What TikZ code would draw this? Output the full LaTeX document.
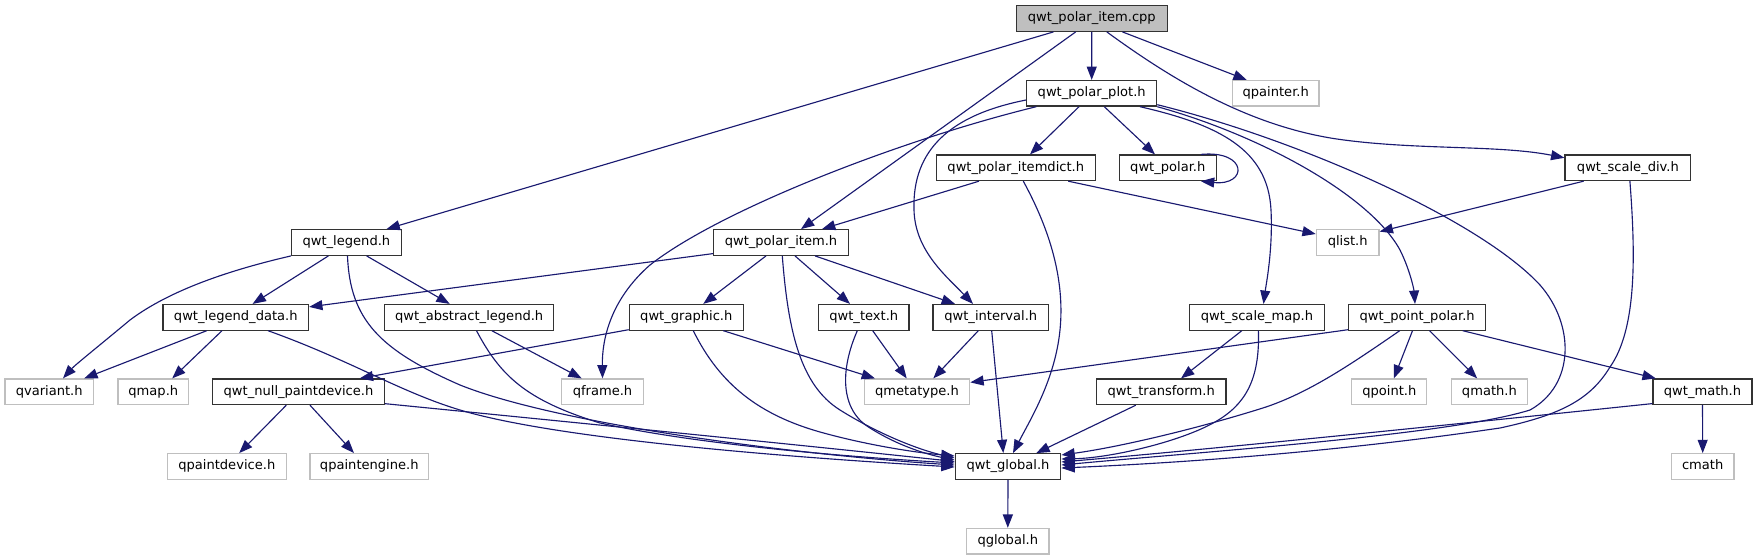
\documentclass[tikz,border=0pt]{standalone}
\usepackage{fontspec}
\setmainfont{DejaVu Sans}
\usetikzlibrary{arrows.meta,calc}
\definecolor{edgeblue}{HTML}{191970}
\definecolor{greyseventyfive}{HTML}{BFBFBF}
\begin{document}
\begin{tikzpicture}[x=0.75pt,y=-0.75pt,
  box/.style={rectangle, draw=black!80, line width=0.9pt, minimum height=19.2pt, inner sep=0pt, text height=7.2pt, text depth=2.2pt, font=\fontsize{9.8pt}{11pt}\selectfont, fill=white},
  extbox/.style={box, draw=greyseventyfive},
  rootbox/.style={box, fill=greyseventyfive},
  dep/.style={draw=edgeblue, line width=0.85pt, -{Triangle[length=10pt,width=7.5pt,fill=edgeblue]}}
]
\useasboundingbox (0,0) rectangle (1757,560);
% row 0
\node[rootbox, minimum width=113.1pt] (cpp) at (1091.8,18.5) {qwt\_polar\_item.cpp};
% row 1
\node[box, minimum width=97.5pt] (plot) at (1091.7,93.3) {qwt\_polar\_plot.h};
\node[extbox, minimum width=65pt] (qpainter) at (1275.7,93.3) {qpainter.h};
% row 2
\node[box, minimum width=119.1pt] (itemdict) at (1015.8,167.8) {qwt\_polar\_itemdict.h};
\node[box, minimum width=72.75pt] (polar) at (1167.8,167.8) {qwt\_polar.h};
\node[box, minimum width=94.35pt] (scalediv) at (1627.9,167.8) {qwt\_scale\_div.h};
% row 3
\node[box, minimum width=82.1pt] (legend) at (346.4,242.5) {qwt\_legend.h};
\node[box, minimum width=101pt] (polaritem) at (781,242.5) {qwt\_polar\_item.h};
\node[extbox, minimum width=47pt] (qlist) at (1347.7,242.5) {qlist.h};
% row 4
\node[box, minimum width=109.1pt] (legenddata) at (235.8,317.3) {qwt\_legend\_data.h};
\node[box, minimum width=126.9pt] (abslegend) at (469.2,317.3) {qwt\_abstract\_legend.h};
\node[box, minimum width=85.5pt] (graphic) at (686.3,317.3) {qwt\_graphic.h};
\node[box, minimum width=67.7pt] (text) at (863.8,317.3) {qwt\_text.h};
\node[box, minimum width=86.8pt] (interval) at (990.8,317.3) {qwt\_interval.h};
\node[box, minimum width=101pt] (scalemap) at (1257,317.3) {qwt\_scale\_map.h};
\node[box, minimum width=102.75pt] (pointpolar) at (1417.2,317.3) {qwt\_point\_polar.h};
% row 5
\node[extbox, minimum width=66.3pt] (qvariant) at (49.2,391.8) {qvariant.h};
\node[extbox, minimum width=53.1pt] (qmap) at (153.3,391.8) {qmap.h};
\node[box, minimum width=129.15pt] (nullpd) at (298.5,391.8) {qwt\_null\_paintdevice.h};
\node[extbox, minimum width=61.2pt] (qframe) at (602.5,391.8) {qframe.h};
\node[extbox, minimum width=79.05pt] (qmetatype) at (917,391.8) {qmetatype.h};
\node[box, minimum width=97.1pt] (transform) at (1161.2,391.8) {qwt\_transform.h};
\node[extbox, minimum width=56.3pt] (qpoint) at (1389.3,391.8) {qpoint.h};
\node[extbox, minimum width=56.6pt] (qmath) at (1489.4,391.8) {qmath.h};
\node[box, minimum width=74.25pt] (qwtmath) at (1702.5,391.8) {qwt\_math.h};
% row 6
\node[extbox, minimum width=89.3pt] (qpaintdevice) at (226.8,466.5) {qpaintdevice.h};
\node[extbox, minimum width=89pt] (qpaintengine) at (369.3,466.5) {qpaintengine.h};
\node[box, minimum width=79.2pt] (global) at (1008,466.5) {qwt\_global.h};
\node[extbox, minimum width=47pt] (cmath) at (1702.7,466.5) {cmath};
% row 7
\node[extbox, minimum width=61.7pt] (qglobal) at (1007.8,541.2) {qglobal.h};

% edges from cpp
\draw[dep] (cpp.south) -- (plot.north);
\draw[dep] ($(cpp.south)+(30.6,0)$) -- ($(qpainter.north)+(-29,0)$);
\draw[dep] ($(cpp.south)+(15,0)$) .. controls (1170,78) and (1250,128) .. (1344,140) .. controls (1420,150) and (1500,145) .. ($(scalediv.west)+(0,-10)$);
\draw[dep] ($(cpp.south)+(-16.1,0)$) -- ($(polaritem.north)+(20,0)$);
\draw[dep] ($(cpp.south)+(-38.3,0)$) -- ($(legend.north)+(40.1,0)$);
% edges from plot
\draw[dep] ($(plot.south)+(-12.7,0)$) -- ($(itemdict.north)+(14.2,0)$);
\draw[dep] ($(plot.south)+(12.6,0)$) -- ($(polar.north)+(-12.8,0)$);
\draw[dep] ($(plot.south)+(-55.4,0)$) .. controls (900,140) and (720,210) .. (650,265) .. controls (610,300) and (602,340) .. (qframe.north);
\draw[dep] ($(plot.west)+(0,6.7)$) .. controls (950,115) and (912,150) .. (914,210) .. controls (915,250) and (945,275) .. ($(interval.north)+(-17.8,0)$);
\draw[dep] ($(plot.south)+(48.3,0)$) .. controls (1220,125) and (1268,150) .. (1271,210) .. controls (1273,250) and (1266,285) .. ($(scalemap.north)+(6.5,0)$);
\draw[dep] ($(plot.south east)+(0,0)$) .. controls (1260,135) and (1370,195) .. (1400,250) .. controls (1410,270) and (1414,290) .. ($(pointpolar.north)+(-2.2,0)$);
\draw[dep] ($(plot.south east)+(0,-2)$) .. controls (1300,140) and (1480,220) .. (1540,285) .. controls (1575,325) and (1575,385) .. (1530,410) .. controls (1450,435) and (1200,452) .. ($(global.east)+(0,-1.5)$);
% self loop
\draw[dep] ($(polar.north east)+(-16,0)$) .. controls (1248,150) and (1248,186) .. ($(polar.south east)+(-16,0)$);
% itemdict
\draw[dep] ($(itemdict.south)+(-36.9,0)$) -- ($(polaritem.north)+(41,0)$);
\draw[dep] ($(itemdict.south)+(52.5,0)$) -- ($(qlist.west)+(0,-8.5)$);
\draw[dep] ($(itemdict.south)+(7.5,0)$) .. controls (1050,230) and (1065,280) .. (1060,330) .. controls (1055,380) and (1030,420) .. ($(global.north)+(5,0)$);
% scale_div
\draw[dep] ($(scalediv.south)+(-44.3,0)$) -- ($(qlist.north east)+(0,2.5)$);
\draw[dep] ($(scalediv.south)+(2,0)$) .. controls (1636,260) and (1636,330) .. (1610,367) .. controls (1590,400) and (1560,415) .. (1500,428) .. controls (1350,450) and (1200,462) .. ($(global.east)+(0,1.5)$);
% legend
\draw[dep] (legend.south west) .. controls (230,270) and (170,290) .. (130,320) .. controls (100,345) and (75,365) .. ($(qvariant.north)+(13.8,0)$);
\draw[dep] ($(legend.south)+(-18,0)$) -- ($(legenddata.north)+(16.8,0)$);
\draw[dep] ($(legend.south)+(20.2,0)$) -- ($(abslegend.north)+(-19.5,0)$);
\draw[dep] ($(legend.south)+(1.1,0)$) .. controls (350,320) and (380,350) .. (460,385) .. controls (560,425) and (800,455) .. ($(global.west)+(0,-1.5)$);
% polar_item
\draw[dep] ($(polaritem.south west)+(0,-2.3)$) -- ($(legenddata.north east)+(0,3)$);
\draw[dep] ($(polaritem.south)+(-15,0)$) -- ($(graphic.north)+(17,0)$);
\draw[dep] ($(polaritem.south)+(14,0)$) -- ($(text.north)+(-13.8,0)$);
\draw[dep] ($(polaritem.south)+(34,0)$) -- ($(interval.north)+(-35.8,0)$);
\draw[dep] ($(polaritem.south)+(1.3,0)$) .. controls (788,330) and (800,385) .. (840,410) .. controls (880,435) and (920,450) .. ($(global.west)+(0,-8.5)$);
% legend_data
\draw[dep] ($(legenddata.south)+(-29.1,0)$) -- ($(qvariant.north)+(35,0)$);
\draw[dep] ($(legenddata.south)+(-13.8,0)$) -- ($(qmap.north)+(18.9,0)$);
\draw[dep] ($(legenddata.south)+(32.2,0)$) .. controls (350,360) and (400,392) .. (460,410) .. controls (560,440) and (800,458) .. ($(global.west)+(0,0.5)$);
% abstract legend
\draw[dep] ($(abslegend.south)+(22.6,0)$) -- ($(qframe.north)+(-20.8,0)$);
\draw[dep] ($(abslegend.south)+(7.3,0)$) .. controls (500,375) and (525,400) .. (600,423) .. controls (700,445) and (850,457) .. ($(global.west)+(0,-3.5)$);
% graphic
\draw[dep] ($(graphic.south west)+(0,-1)$) -- ($(nullpd.north)+(61.2,0)$);
\draw[dep] ($(graphic.south)+(37,0)$) -- ($(qmetatype.north)+(-42,0)$);
\draw[dep] ($(graphic.south)+(7,0)$) .. controls (720,385) and (760,415) .. (820,432) .. controls (870,446) and (920,453) .. ($(global.west)+(0,-10.5)$);
% text
\draw[dep] ($(text.south)+(8.9,0)$) -- ($(qmetatype.north)+(-10.3,0)$);
\draw[dep] ($(text.south)+(-6.5,0)$) .. controls (840,370) and (840,410) .. (870,428) .. controls (900,447) and (930,455) .. ($(global.west)+(0,-6.5)$);
% interval
\draw[dep] ($(interval.south)+(-12.5,0)$) -- ($(qmetatype.north)+(16.3,0)$);
\draw[dep] ($(interval.south)+(0.9,0)$) -- ($(global.north)+(-4.7,0)$);
% scale_map
\draw[dep] ($(scalemap.south)+(-15.2,0)$) -- ($(transform.north)+(19.8,0)$);
\draw[dep] ($(scalemap.south)+(1.4,0)$) .. controls (1260,380) and (1245,405) .. (1215,422) .. controls (1180,442) and (1110,458) .. ($(global.east)+(0,-7.5)$);
% transform
\draw[dep] ($(transform.south)+(-25.4,0)$) -- ($(global.north)+(28.3,0)$);
% point_polar
\draw[dep] ($(pointpolar.south west)+(0,-1)$) -- ($(qmetatype.north east)+(0,4)$);
\draw[dep] ($(pointpolar.south)+(-4.7,0)$) -- ($(qpoint.north)+(4.6,0)$);
\draw[dep] ($(pointpolar.south)+(12.3,0)$) -- ($(qmath.north)+(-12.2,0)$);
\draw[dep] ($(pointpolar.south)+(45.6,0)$) -- ($(qwtmath.north west)+(3.4,0)$);
\draw[dep] ($(pointpolar.south)+(-17.5,0)$) .. controls (1350,365) and (1310,392) .. (1266,407) .. controls (1200,428) and (1120,447) .. ($(global.east)+(0,-11.5)$);
% qwt_math
\draw[dep] (qwtmath.south) -- (cmath.north);
\draw[dep] ($(qwtmath.south west)+(0,-1.6)$) .. controls (1400,430) and (1200,450) .. ($(global.east)+(0,-4.5)$);
% null paint device
\draw[dep] ($(nullpd.south)+(-12.2,0)$) -- ($(qpaintdevice.north)+(12.4,0)$);
\draw[dep] ($(nullpd.south)+(11.5,0)$) -- ($(qpaintengine.north)+(-15.3,0)$);
\draw[dep] ($(nullpd.south east)+(0,-1.5)$) .. controls (600,425) and (800,445) .. ($(global.west)+(0,-5)$);
% global
\draw[dep] (global.south) -- (qglobal.north);
\end{tikzpicture}
\end{document}
